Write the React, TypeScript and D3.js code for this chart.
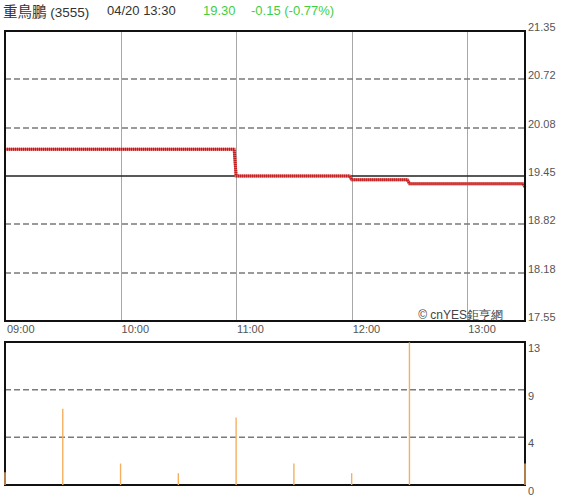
import React from "react";
import * as d3 from "d3";

// ---- data ----
const stockName = "重鳥鵬";
const stockCode = "(3555)";
const stampText = "04/20 13:30";
const lastPrice = "19.30";
const changeText = "-0.15 (-0.77%)";
const watermark = "© cnYES鉅亨網";

const priceTimes = ["09:00", "10:59", "11:00", "11:59", "12:00", "12:29", "12:30", "13:29", "13:30"];
const priceValues = [19.8, 19.8, 19.45, 19.45, 19.4, 19.4, 19.35, 19.35, 19.3];
const prevClose = 19.45;

const volTimes = ["09:00", "09:30", "10:00", "10:30", "11:00", "11:30", "12:00", "12:30", "13:30"];
const volValues = [1.2, 7.1, 2.0, 1.1, 6.3, 2.0, 1.1, 13.3, 2.0];

const priceTicks = [21.35, 20.72, 20.08, 19.45, 18.82, 18.18, 17.55];
const priceTickLabels = ["21.35", "20.72", "20.08", "19.45", "18.82", "18.18", "17.55"];
const timeTicks = ["09:00", "10:00", "11:00", "12:00", "13:00"];
const volTicks = [13.33, 8.89, 4.44, 0];
const volTickLabels = ["13", "9", "4", "0"];

const toMin = (t: string) => {
  const [h, m] = t.split(":").map(Number);
  return (h - 9) * 60 + m;
};

const FONT = "'Liberation Sans', Arial, sans-serif";

export default function App() {
  const left = 5, right = 525;
  const pTop = 31, pBottom = 321;
  const vTop = 342, vBottom = 485;

  const x = d3.scaleLinear().domain([0, 270]).range([left, right]);
  const y = d3.scaleLinear().domain([17.55, 21.35]).range([pBottom, pTop]);
  const yv = d3.scaleLinear().domain([0, 13.33]).range([vBottom, vTop]);
  const px = (v: number) => Math.round(v) + 0.5;

  const line = d3
    .line<number>()
    .x((_, i) => x(toMin(priceTimes[i])))
    .y((d) => y(d));
  const pricePath = line(priceValues) || "";

  return (
    <svg
      width={580}
      height={500}
      style={{ position: "absolute", left: 0, top: 0, background: "#fff" }}
      fontFamily={FONT}
    >
      {/* header */}
      <text x={3} y={17} fontSize={13.5} fill="#333">
        <tspan fontSize={14.5} fontFamily="'Noto Sans CJK TC', sans-serif">{stockName}</tspan>
        <tspan> {stockCode}</tspan>
      </text>
      <text x={107} y={15} fontSize={13} fill="#333">{stampText}</text>
      <text x={203} y={15} fontSize={13} fill="#3fcf3f">{lastPrice}</text>
      <text x={251} y={15} fontSize={13} fill="#3fcf3f">{changeText}</text>

      {/* price panel grid */}
      {timeTicks.slice(1).map((t) => (
        <line key={"vg" + t} x1={px(x(toMin(t)))} x2={px(x(toMin(t)))} y1={pTop} y2={pBottom} stroke="#a8a8a8" strokeWidth={1} />
      ))}
      {priceTicks.slice(1, -1).map((p) =>
        p === prevClose ? null : (
          <line key={"hg" + p} x1={left} x2={right} y1={y(p)} y2={y(p)} stroke="#7a7a7a" strokeWidth={1.5} strokeDasharray="6,3" />
        )
      )}
      <line x1={left} x2={right} y1={y(prevClose)} y2={y(prevClose)} stroke="#222" strokeWidth={1.5} />

      {/* price line */}
      <path d={pricePath} fill="none" stroke="#e06060" strokeWidth={3} />
      <path d={pricePath} fill="none" stroke="#c01818" strokeWidth={3} strokeDasharray="1,1" />

      {/* border */}
      <rect x={left} y={pTop} width={right - left} height={pBottom - pTop} fill="none" stroke="#111" strokeWidth={2} />

      {/* watermark */}
      <text x={503} y={319} fontSize={12} fill="#444" textAnchor="end">{watermark}</text>

      {/* price labels */}
      {priceTicks.map((p, i) => (
        <text key={"pl" + p} x={528} y={y(p) - 3} fontSize={11} fill="#555" dominantBaseline="middle">
          {priceTickLabels[i]}
        </text>
      ))}

      {/* time labels */}
      {timeTicks.map((t) => (
        <text key={"tl" + t} x={x(toMin(t)) + (t === "09:00" ? 2 : 1)} y={333} fontSize={11} fill="#555">
          {t}
        </text>
      ))}

      {/* volume panel grid */}
      {volTicks.slice(1, -1).map((v) => (
        <line key={"vgl" + v} x1={left} x2={right} y1={yv(v)} y2={yv(v)} stroke="#7a7a7a" strokeWidth={1.5} strokeDasharray="6,3" />
      ))}

      <rect x={left} y={vTop} width={right - left} height={vBottom - vTop} fill="none" stroke="#111" strokeWidth={2} />

      {/* volume bars */}
      {volValues.map((v, i) => (
        <line
          key={"vb" + i}
          x1={x(toMin(volTimes[i]))}
          x2={x(toMin(volTimes[i]))}
          y1={yv(0)}
          y2={yv(v)}
          stroke="#f4b060"
          strokeWidth={1.4}
        />
      ))}

      {/* volume labels */}
      {volTicks.map((v, i) => (
        <text key={"vl" + v} x={528} y={yv(v) + 7} fontSize={11} fill="#555" dominantBaseline="middle">
          {volTickLabels[i]}
        </text>
      ))}
    </svg>
  );
}
